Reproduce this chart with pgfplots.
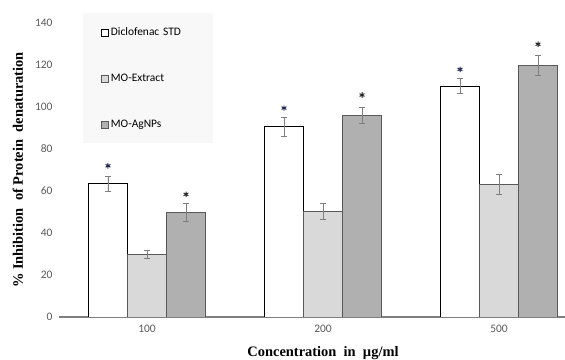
\documentclass[border=0pt]{standalone}
\usepackage{pgfplots}
\pgfplotsset{compat=1.18}
\usepackage{fontspec}
\setmainfont{Carlito}
\newfontfamily\serifb{Liberation Serif}
\definecolor{lightbar}{HTML}{D9D9D9}
\definecolor{darkbar}{HTML}{B0B0B0}
\definecolor{edgedark}{HTML}{595959}
\definecolor{ticktxt}{HTML}{595959}
\definecolor{errc}{HTML}{7F7F7F}
\definecolor{legbg}{HTML}{F8F8F8}
\definecolor{starc}{HTML}{1C2550}
\pgfplotsset{myerr/.style={error bars/.cd, y dir=both, y explicit,
  error bar style={color=errc, line width=0.9pt},
  error mark options={rotate=90, mark size=3.4bp, color=errc, line width=0.9pt}}}
\begin{document}
\begin{tikzpicture}
\begin{axis}[
  scale only axis, width=506bp, height=294bp,
  xmin=-0.5, xmax=2.375, ymin=0, ymax=140,
  axis lines*=left,
  y axis line style={draw=none},
  x axis line style={draw=errc, line width=1.2pt, -},
  major tick length=0,
  xtick={0,1,2}, xticklabels={100,200,500},
  ytick={0,20,...,140},
  /pgf/number format/assume math mode=true,
  tick label style={font=\fontsize{11.5}{13}\selectfont, text=ticktxt},
  xticklabel style={yshift=-5bp},
  yticklabel style={xshift=-3bp},
  ylabel={\serifb\bfseries \% Inhibition\ \ of Protein\ \ denaturation},
  ylabel style={font=\fontsize{14.5}{16}\selectfont, at={(rel axis cs:0,0.5)}, anchor=center, yshift=41bp},
  xlabel={\serifb\bfseries Concentration\ \ in\ \ µg/ml},
  xlabel style={font=\fontsize{14.5}{16}\selectfont, at={(axis cs:1,0)}, anchor=north, yshift=-26bp},
  legend style={at={(rel axis cs:0,1)}, anchor=north west, xshift=24bp, yshift=10bp,
    fill=legbg, draw=none, font=\fontsize{11.5}{13}\selectfont,
    text width=82bp, inner xsep=18bp, inner ysep=12.5bp, row sep=33bp, cells={anchor=west}},
  legend image code/.code={\draw[#1, line width=0.7pt] (0bp,-3.5bp) rectangle (7bp,3.5bp);},
]
\addplot[ybar, bar width=39bp, bar shift=0bp, fill=white, draw=black, line width=0.7pt, myerr]
  coordinates {(-0.2216,63.5) +- (0,3.6) (0.7784,90.7) +- (0,4.5) (1.7784,110.0) +- (0,3.5)};
\addlegendentry{Diclofenac STD}
\addplot[ybar, bar width=39bp, bar shift=0bp, fill=lightbar, draw=edgedark, line width=0.7pt, myerr]
  coordinates {(0,29.8) +- (0,1.8) (1,50.3) +- (0,3.7) (2,63.3) +- (0,4.8)};
\addlegendentry{MO-Extract}
\addplot[ybar, bar width=39bp, bar shift=0bp, fill=darkbar, draw=edgedark, line width=0.9pt, myerr]
  coordinates {(0.2216,49.9) +- (0,4.2) (1.2216,95.9) +- (0,3.7) (2.2216,119.8) +- (0,4.7)};
\addlegendentry{MO-AgNPs}
\addplot[only marks, mark=asterisk, mark size=2.8pt, color=starc, line width=1pt, forget plot]
  coordinates {(-0.2216,72.0) (0.7784,99.5) (1.7784,117.9)};
\addplot[only marks, mark=asterisk, mark size=2.8pt, color=black!85, line width=1pt, forget plot]
  coordinates {(0.2216,58.4) (1.2216,105.7) (2.2216,129.9)};
\coordinate (O) at (rel axis cs:0,0);
\end{axis}
\pgfresetboundingbox
\useasboundingbox ([xshift=-59bp,yshift=-43bp]O) rectangle ([xshift=506bp,yshift=317bp]O);
\end{tikzpicture}
\end{document}
